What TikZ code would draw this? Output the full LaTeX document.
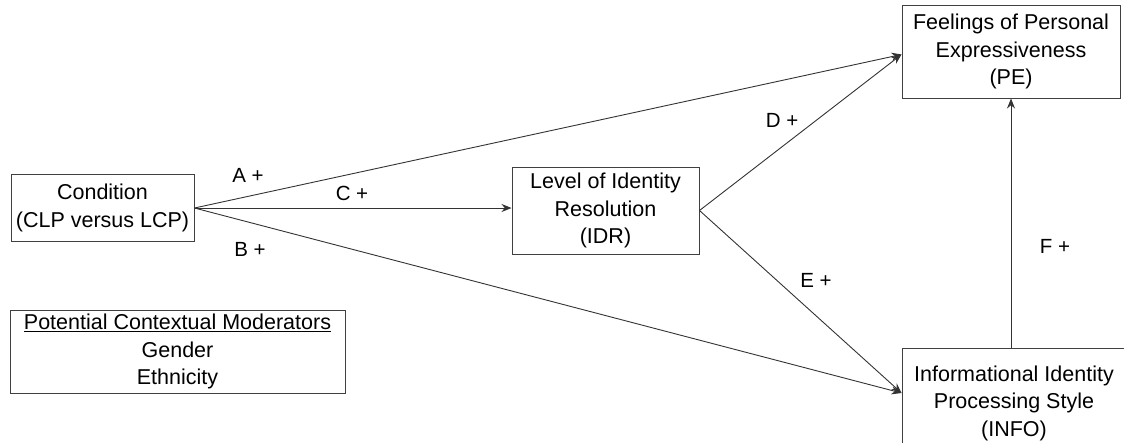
\documentclass[tikz,border=0pt]{standalone}
\usepackage{fontspec}
\setmainfont{Liberation Sans}
\usetikzlibrary{arrows.meta,calc}
\begin{document}
\begin{tikzpicture}[x=1pt,y=-1pt,
  box/.style={draw=black!75, line width=1pt, align=center, inner sep=0pt,
    font=\fontsize{21.5}{27.5}\selectfont},
  lbl/.style={font=\fontsize{20.5}{24}\selectfont, inner sep=0pt},
  conn/.style={draw=black!80, line width=0.9pt, -{Stealth[length=10pt,width=8pt]}}]
\useasboundingbox (0,0) rectangle (1124,442);
\begin{scope}
\clip (0,0) rectangle (1124,442);
\node[box, minimum width=183pt, minimum height=67pt] (cond) at (102.5,208) {Condition\\(CLP versus LCP)};
\node[box, minimum width=187pt, minimum height=87pt] (idr) at (605.5,210.5) {Level of Identity\\Resolution\\(IDR)};
\node[box, minimum width=218pt, minimum height=93pt] (pe) at (1011,51.5) {Feelings of Personal\\Expressiveness\\(PE)};
\node[box, minimum width=224pt, minimum height=110pt] (info) at (1014,403) {Informational Identity\\Processing Style\\(INFO)};
\node[box, minimum width=335pt, minimum height=83pt] (mod) at (177.5,351.5) {\underline{Potential Contextual Moderators}\\Gender\\Ethnicity};
\end{scope}
\coordinate (peIn) at ($(pe.west)+(0,3)$);
\coordinate (infoIn) at ($(info.west)+(0,-10)$);
\draw[conn] (cond.east) -- (peIn);
\draw[conn] (cond.east) -- (idr.west |- cond.east);
\draw[conn] (cond.east) -- (infoIn);
\draw[conn] (idr.east) -- (peIn);
\draw[conn] (idr.east) -- (infoIn);
\draw[conn] (info.north -| pe.south) -- (pe.south);
\node[lbl] (la) at (248,175) {A +};
\node[lbl] (lc) at (352,193) {C +};
\node[lbl] (lb) at (250,249) {B +};
\node[lbl] (ld) at (782,120) {D +};
\node[lbl] (le) at (816,280) {E +};
\node[lbl] (lf) at (1055,246) {F +};
\end{tikzpicture}
\end{document}
